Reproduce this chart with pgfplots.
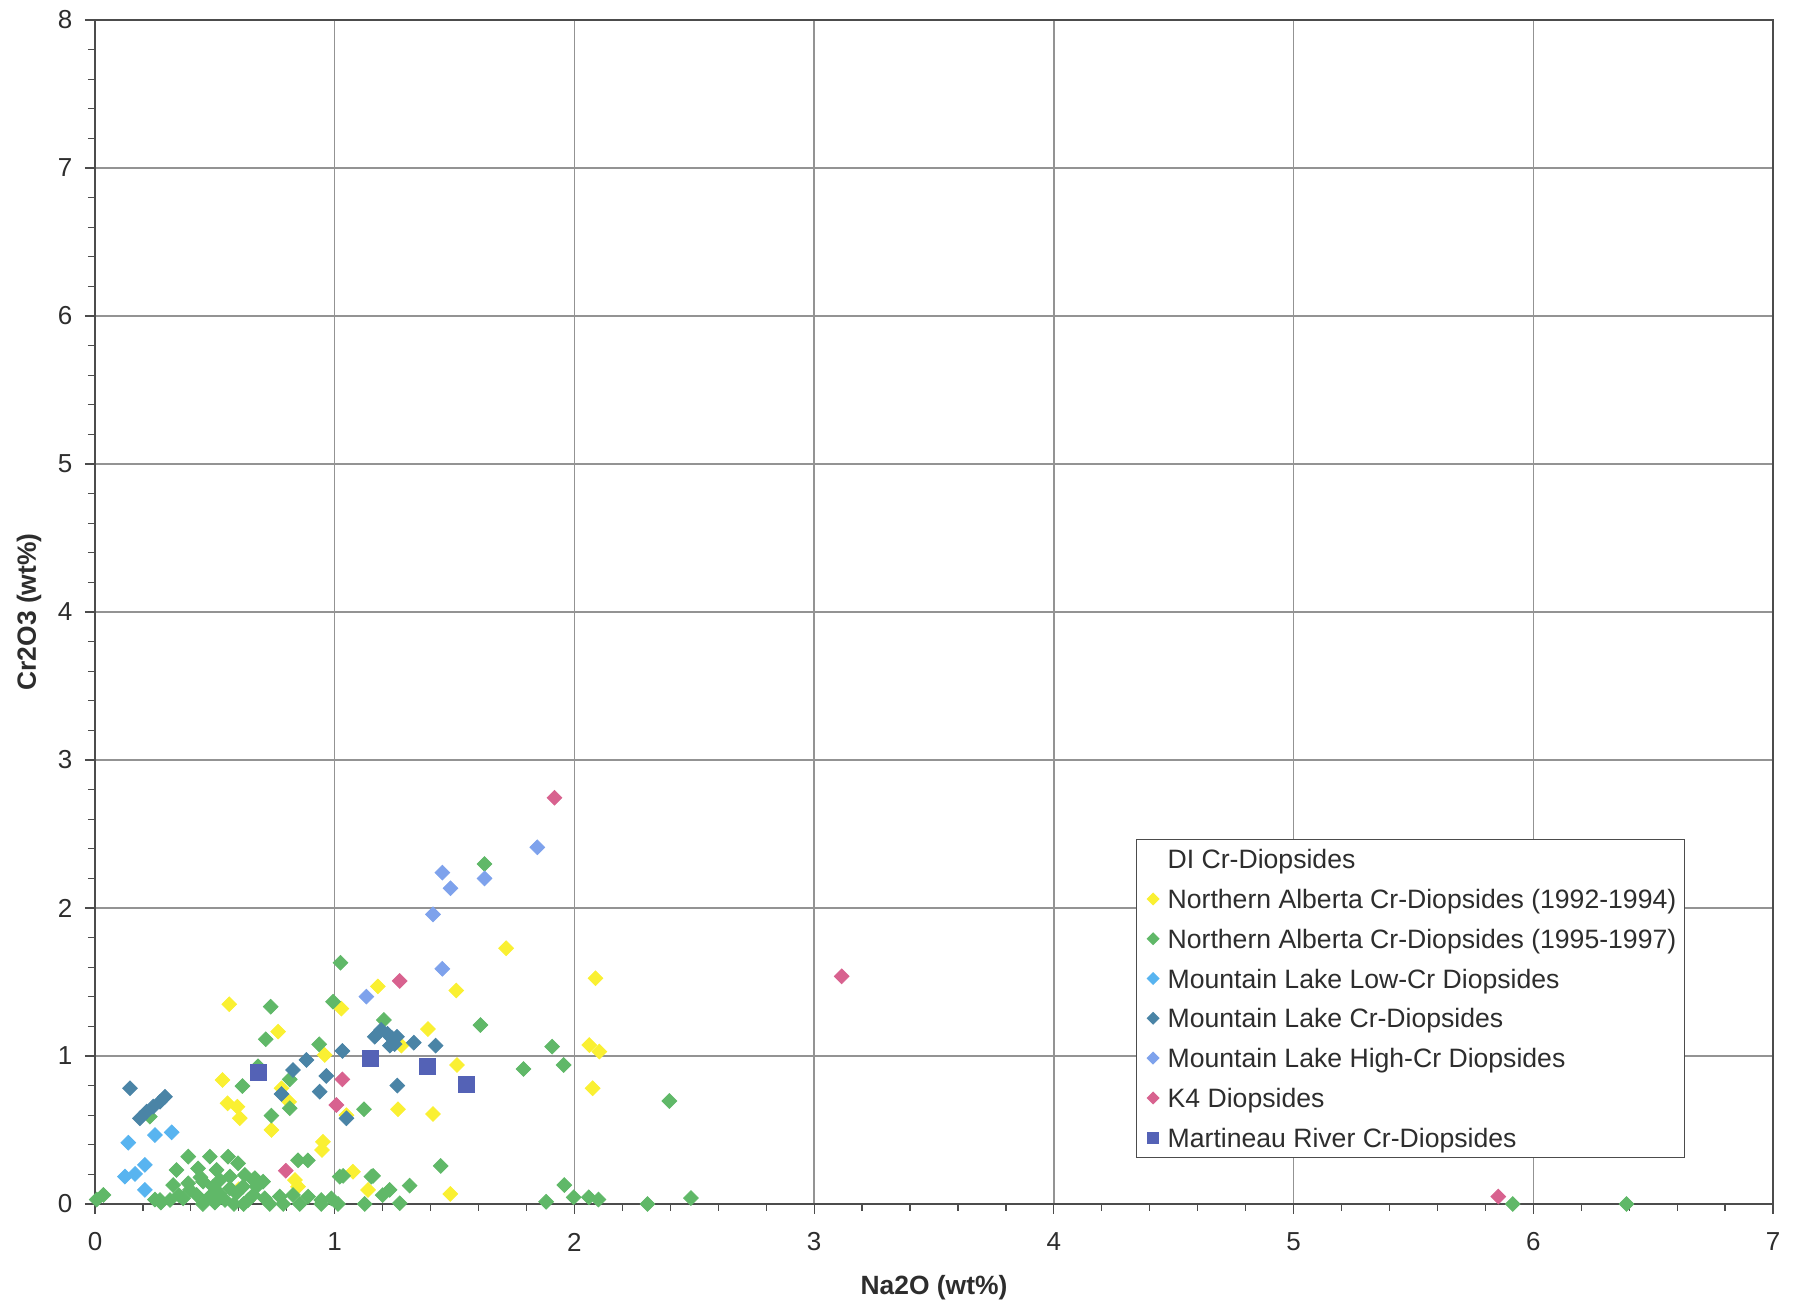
\documentclass[border=0pt]{standalone}
\usepackage{fontspec}
\setmainfont{Liberation Sans}
\usepackage{pgfplots}
\pgfplotsset{compat=1.18}
\definecolor{cyel}{RGB}{250,240,50}
\definecolor{cgrn}{RGB}{96,184,104}
\definecolor{clow}{RGB}{88,180,240}
\definecolor{ccr}{RGB}{74,132,166}
\definecolor{chigh}{RGB}{126,162,236}
\definecolor{cpink}{RGB}{216,98,143}
\definecolor{cmart}{RGB}{84,98,182}
\definecolor{ctxt}{RGB}{45,45,45}
\begin{document}
\begin{tikzpicture}
\begin{axis}[
  scale only axis, width=839pt, height=592pt,
  xmin=0, xmax=7, ymin=0, ymax=8,
  xtick={0,...,7}, ytick={0,...,8},
  minor x tick num=4, minor y tick num=4,
  tick pos=left,
  tick align=outside, major tick length=5pt, minor tick length=3.5pt,
  tick style={gray!60!black, line width=0.6pt},
  grid=major, major grid style={gray!85, line width=0.7pt},
  axis line style={gray!60!black, line width=0.7pt},
  /pgf/number format/assume math mode=true,
  ticklabel style={font=\fontsize{13}{15}\selectfont, text=ctxt},
  xticklabel style={anchor=center, yshift=-14pt},
  yticklabel style={anchor=center, xshift=-10pt},
  xlabel={Na2O (wt\%)}, ylabel={Cr2O3 (wt\%)},
  label style={font=\bfseries\fontsize{13.2}{15}\selectfont, text=ctxt},
  xlabel style={at={(axis description cs:0.5,-0.071)}, anchor=center},
  ylabel style={at={(axis description cs:-0.0393,0.5)}, anchor=center},
  legend cell align=left,
  legend image code/.code={\path (0pt,0pt) (8pt,0pt); \draw[#1] plot coordinates {(4pt,0pt)};},
  legend style={at={(rel axis cs:0.9475,0.039)}, anchor=south east,
    draw=gray!60!black, line width=0.6pt, fill=white,
    font=\fontsize{13.3}{15}\selectfont, text=ctxt,
    inner xsep=4pt, inner ysep=5pt, row sep=10.4pt, column sep=3pt,
    nodes={inner sep=0pt, text height=9.5pt, text depth=0pt}},
]
\addlegendimage{only marks, mark=square*, mark options={draw=white, fill=white}}
\addlegendentry{DI Cr-Diopsides}

\addplot[only marks, mark=square*, mark size=2.6pt, mark options={rotate=45, draw=cyel, fill=cyel}, legend image post style={mark size=2pt}] table {
0.56 1.35
1.18 1.47
1.028 1.32
0.764 1.165
0.958 1.007
0.532 0.838
0.553 0.68
0.594 0.657
0.604 0.58
0.778 0.782
0.81 0.69
0.736 0.50
0.951 0.42
0.947 0.365
1.049 0.60
1.076 0.218
0.834 0.162
0.847 0.117
1.139 0.095
0.60 0.10
1.507 1.443
1.715 1.728
2.088 1.525
1.389 1.182
1.278 1.07
2.062 1.074
2.104 1.03
1.51 0.939
2.076 0.782
1.264 0.64
1.41 0.608
1.482 0.068
};
\addlegendentry{Northern Alberta Cr-Diopsides (1992-1994)}

\addplot[only marks, mark=square*, mark size=2.6pt, mark options={rotate=45, draw=cgrn, fill=cgrn}, legend image post style={mark size=2pt}] table {
1.024 1.63
0.733 1.333
0.993 1.367
0.7125 1.113
1.205 1.243
0.935 1.079
0.68 0.93
0.615 0.797
0.8125 0.842
0.8125 0.647
0.736 0.597
1.122 0.64
0.229 0.59
0.847 0.295
0.888 0.295
0.389 0.32
0.479 0.32
0.555 0.32
0.597 0.275
0.34 0.23
0.43 0.24
0.507 0.23
0.326 0.128
0.389 0.14
0.451 0.151
0.521 0.162
0.563 0.185
0.625 0.196
0.66 0.162
0.667 0.174
0.701 0.151
0.271 0.027
0.313 0.027
0.368 0.038
0.424 0.061
0.479 0.05
0.542 0.027
0.59 0.072
0.639 0.027
0.493 0.117
0.563 0.106
0.618 0.117
0.396 0.095
0.674 0.117
0.66 0.061
0.708 0.038
0.771 0.05
0.826 0.061
0.889 0.05
0.944 0.027
0.986 0.038
0.729 0.0
0.785 0.0
0.854 0.0
0.944 0.0
1.014 0.0
0.45 0.0
0.50 0.01
0.58 0.0
0.62 0.0
0.35 0.06
0.44 0.18
0.52 0.07
1.021 0.185
1.035 0.19
1.153 0.185
1.125 0.0
1.16 0.19
1.2 0.06
1.229 0.095
1.3125 0.124
1.271 0.005
1.442 0.257
0.035 0.061
0.007 0.03
0.25 0.03
0.275 0.01
1.625 2.297
1.608 1.209
1.907 1.063
1.955 0.939
1.7875 0.912
2.396 0.696
1.958 0.128
1.882 0.015
1.997 0.045
2.06 0.045
2.1 0.03
2.305 0.0
2.486 0.04
5.914 0.0
6.389 0.0
};
\addlegendentry{Northern Alberta Cr-Diopsides (1995-1997)}

\addplot[only marks, mark=square*, mark size=2.6pt, mark options={rotate=45, draw=clow, fill=clow}, legend image post style={mark size=2pt}] table {
0.139 0.414
0.25 0.466
0.32 0.484
0.125 0.185
0.167 0.203
0.208 0.264
0.208 0.095
};
\addlegendentry{Mountain Lake Low-Cr Diopsides}

\addplot[only marks, mark=square*, mark size=2.6pt, mark options={rotate=45, draw=ccr, fill=ccr}, legend image post style={mark size=2pt}] table {
0.146 0.782
0.1875 0.579
0.215 0.624
0.243 0.658
0.271 0.691
0.292 0.725
0.882 0.973
0.826 0.905
0.778 0.743
0.965 0.865
0.9375 0.759
1.032 1.034
1.049 0.579
1.167 1.13
1.194 1.176
1.22 1.15
1.24 1.12
1.26 1.13
1.25 1.08
1.23 1.07
1.33 1.09
1.421 1.07
1.261 0.80
};
\addlegendentry{Mountain Lake Cr-Diopsides}

\addplot[only marks, mark=square*, mark size=2.6pt, mark options={rotate=45, draw=chigh, fill=chigh}, legend image post style={mark size=2pt}] table {
1.132 1.401
1.449 1.589
1.449 2.239
1.483 2.133
1.625 2.2
1.845 2.41
1.41 1.957
};
\addlegendentry{Mountain Lake High-Cr Diopsides}

\addplot[only marks, mark=square*, mark size=2.6pt, mark options={rotate=45, draw=cpink, fill=cpink}, legend image post style={mark size=2pt}] table {
1.032 0.842
1.007 0.669
0.796 0.225
1.271 1.507
1.917 2.745
3.115 1.538
5.854 0.05
};
\addlegendentry{K4 Diopsides}

\addplot[only marks, mark=square*, mark size=4pt, mark options={draw=cmart, fill=cmart}, legend image post style={mark size=2.8pt}] table {
0.68 0.887
1.15 0.984
1.385 0.932
1.551 0.811
};
\addlegendentry{Martineau River Cr-Diopsides}

\coordinate (bl) at (rel axis cs:0,0);
\coordinate (tr) at (rel axis cs:1,1);
\end{axis}
\pgfresetboundingbox
\path ([xshift=-47.5pt,yshift=-51.5pt]bl) rectangle ([xshift=12pt,yshift=10pt]tr);
\end{tikzpicture}
\end{document}
